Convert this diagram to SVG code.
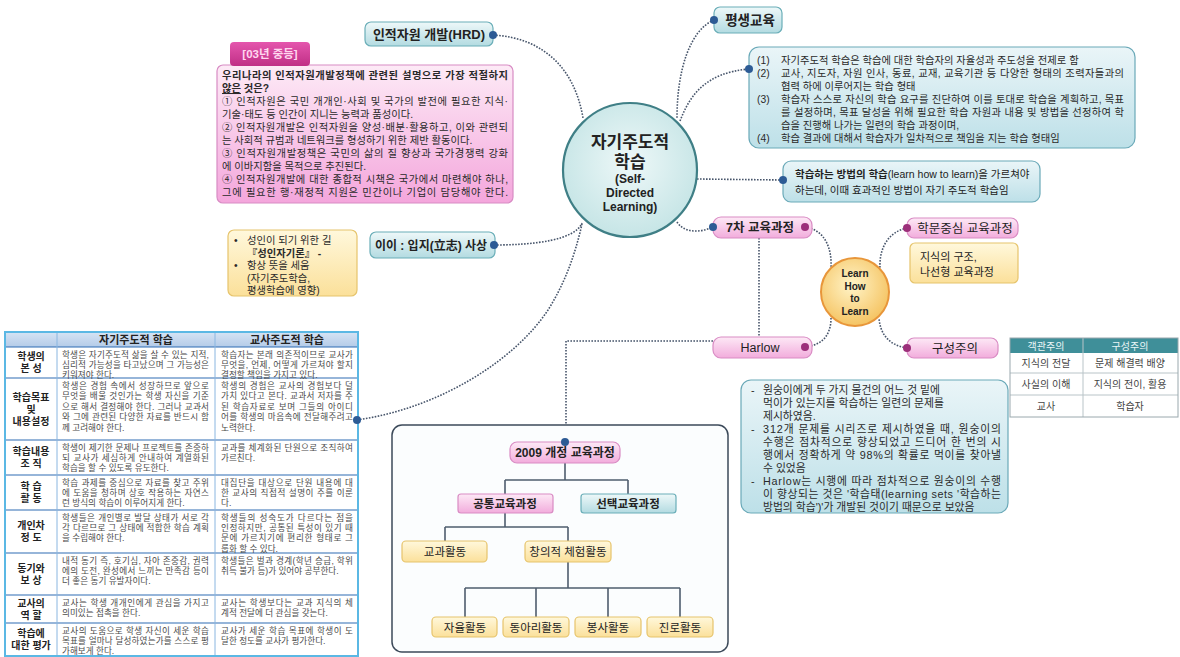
<svg xmlns="http://www.w3.org/2000/svg" width="1180" height="657" viewBox="0 0 1180 657">
<defs>
<linearGradient id="gPink" x1="0" y1="0" x2="0" y2="1"><stop offset="0" stop-color="#fde9f6"/><stop offset="1" stop-color="#f2acdc"/></linearGradient>
<linearGradient id="gTeal" x1="0" y1="0" x2="0" y2="1"><stop offset="0" stop-color="#eef8f9"/><stop offset="1" stop-color="#b3dbe1"/></linearGradient>
<linearGradient id="gYel" x1="0" y1="0" x2="0" y2="1"><stop offset="0" stop-color="#fff8dc"/><stop offset="1" stop-color="#fbe09a"/></linearGradient>
<linearGradient id="gQ" x1="0" y1="0" x2="0" y2="1"><stop offset="0" stop-color="#fdeaf6"/><stop offset="1" stop-color="#f4a6dc"/></linearGradient>
<linearGradient id="gBlue" x1="0" y1="0" x2="0" y2="1"><stop offset="0" stop-color="#eaf5f8"/><stop offset="1" stop-color="#bde0e8"/></linearGradient>
<linearGradient id="gTab" x1="0" y1="0" x2="0" y2="1"><stop offset="0" stop-color="#e456ad"/><stop offset="1" stop-color="#c02f86"/></linearGradient>
<linearGradient id="gHead" x1="0" y1="0" x2="0" y2="1"><stop offset="0" stop-color="#d6e4f4"/><stop offset="1" stop-color="#b4cbe8"/></linearGradient>
<radialGradient id="gCircle" cx="0.5" cy="0.45" r="0.55"><stop offset="0" stop-color="#eef8f8"/><stop offset="1" stop-color="#c6e5e6"/></radialGradient>
<radialGradient id="gGold" cx="0.45" cy="0.4" r="0.6"><stop offset="0" stop-color="#fff4c8"/><stop offset="1" stop-color="#f5c463"/></radialGradient>
<style>
.t{font-family:"Liberation Sans","Noto Sans CJK KR",sans-serif;fill:#222}
.b{font-weight:bold}
.m{text-anchor:middle}
.conn{fill:none;stroke:#46546a;stroke-width:1.6;stroke-dasharray:1.6 1.4}
.tree{fill:none;stroke:#4f5d6e;stroke-width:1.6}
.pk{fill:url(#gPink);stroke:#d98cc4;stroke-width:1.2}
.tl{fill:url(#gTeal);stroke:#6aaeb8;stroke-width:1.2}
.yl{fill:url(#gYel);stroke:#e6c46c;stroke-width:1.2}
.db{fill:#2d5b95}
.dm{fill:#9c2f7a}
.q{font-size:10.3px;fill:#2a2a2a}
.bx{font-size:10.3px;fill:#2a2a2a}
.hx{font-size:10.8px;fill:#2a2a2a}
.c{font-size:8.6px;fill:#4a4a4a}
.lb{font-size:10px;font-weight:bold;text-anchor:middle;fill:#222}
.rt{font-size:10px;fill:#444;text-anchor:middle}
.yn{font-size:10.3px;fill:#2a2a2a}
</style>
</defs>
<rect width="1180" height="657" fill="#ffffff"/>

<g id="connectors">
<path class="conn" d="M493,35 C545,38 575,70 583,118"/>
<path class="conn" d="M714,20 C690,30 677,70 677,118"/>
<path class="conn" d="M680,121 C690,95 705,73 749,69"/>
<path class="conn" d="M697,179 L783,180"/>
<path class="conn" d="M677,222 C684,233 700,233 713,227"/>
<path class="conn" d="M494,245 C535,245 575,240 582,223"/>
<path class="conn" d="M357,420 C440,408 515,360 548,310 C565,283 575,255 582,224"/>
<path class="conn" d="M713,341 L566,341 L566,442"/>
<path class="conn" d="M759,238 L759,337"/>
<path class="conn" d="M805,227 C825,230 832,248 831,268"/>
<path class="conn" d="M907,228 C887,232 879,250 880,268"/>
<path class="conn" d="M805,347 C825,345 831,332 831,318"/>
<path class="conn" d="M907,348 C887,345 880,332 879,318"/>
</g>

<g id="center">
<circle cx="630" cy="170" r="67" fill="url(#gCircle)" stroke="#3f7f86" stroke-width="2.2"/>
<text class="t b m" x="630" y="148" font-size="17">자기주도적</text>
<text class="t b m" x="630" y="168" font-size="17">학습</text>
<text class="t b m" x="630" y="183" font-size="12">(Self-</text>
<text class="t b m" x="630" y="197" font-size="12">Directed</text>
<text class="t b m" x="630" y="211" font-size="12">Learning)</text>
</g>

<g id="hrd">
<rect class="tl" x="365" y="22" width="128" height="24" rx="6"/>
<text class="t b m" x="429" y="39" font-size="13">인적자원 개발(HRD)</text>
<circle class="db" cx="493" cy="35" r="4"/>
</g>

<g id="question">
<rect x="217" y="65" width="296" height="138" rx="6" fill="url(#gQ)" stroke="#d88cc4" stroke-width="1.2"/>
<rect x="230" y="42" width="80" height="24" rx="4" fill="url(#gTab)"/>
<text class="t b m" x="270" y="58" font-size="11.5" style="fill:#ffd8ef">[03년 중등]</text>
<text class="t q b" x="222" y="79" textLength="286" lengthAdjust="spacing">우리나라의 인적자원개발정책에 관련된 설명으로 가장 적절하지</text>
<text class="t q b" x="222" y="92"><tspan text-decoration="underline">않은</tspan> 것은?</text>
<text class="t q" x="222" y="105" textLength="286" lengthAdjust="spacing">① 인적자원은 국민 개개인·사회 및 국가의 발전에 필요한 지식·</text>
<text class="t q" x="222" y="118">기술·태도 등 인간이 지니는 능력과 품성이다.</text>
<text class="t q" x="222" y="131" textLength="286" lengthAdjust="spacing">② 인적자원개발은 인적자원을 양성·배분·활용하고, 이와 관련되</text>
<text class="t q" x="222" y="144">는 사회적 규범과 네트워크를 형성하기 위한 제반 활동이다.</text>
<text class="t q" x="222" y="157" textLength="286" lengthAdjust="spacing">③ 인적자원개발정책은 국민의 삶의 질 향상과 국가경쟁력 강화</text>
<text class="t q" x="222" y="170">에 이바지함을 목적으로 추진된다.</text>
<text class="t q" x="222" y="183" textLength="286" lengthAdjust="spacing">④ 인적자원개발에 대한 종합적 시책은 국가에서 마련해야 하나,</text>
<text class="t q" x="222" y="196" textLength="286" lengthAdjust="spacing">그에 필요한 행·재정적 지원은 민간이나 기업이 담당해야 한다.</text>
</g>

<g id="lifelong">
<rect class="tl" x="714" y="7" width="68" height="26" rx="6"/>
<text class="t b m" x="750" y="25" font-size="13.5">평생교육</text>
<circle class="db" cx="714" cy="20" r="4"/>
</g>

<g id="definition">
<rect x="749" y="47" width="386" height="101" rx="10" fill="url(#gBlue)" stroke="#6aa9b8" stroke-width="1.2"/>
<circle class="db" cx="749" cy="69" r="4"/>
<text class="t bx" x="757" y="64">(1)</text>
<text class="t bx" x="781" y="64">자기주도적 학습은 학습에 대한 학습자의 자율성과 주도성을 전제로 함</text>
<text class="t bx" x="757" y="77">(2)</text>
<text class="t bx" x="781" y="77" textLength="343" lengthAdjust="spacing">교사, 지도자, 자원 인사, 동료, 교재, 교육기관 등 다양한 형태의 조력자들과의</text>
<text class="t bx" x="781" y="90">협력 하에 이루어지는 학습 형태</text>
<text class="t bx" x="757" y="103">(3)</text>
<text class="t bx" x="781" y="103" textLength="343" lengthAdjust="spacing">학습자 스스로 자신의 학습 요구를 진단하여 이를 토대로 학습을 계획하고, 목표</text>
<text class="t bx" x="781" y="116" textLength="343" lengthAdjust="spacing">를 설정하며, 목표 달성을 위해 필요한 학습 자원과 내용 및 방법을 선정하여 학</text>
<text class="t bx" x="781" y="129">습을 진행해 나가는 일련의 학습 과정이며,</text>
<text class="t bx" x="757" y="142">(4)</text>
<text class="t bx" x="781" y="142">학습 결과에 대해서 학습자가 일차적으로 책임을 지는 학습 형태임</text>
</g>

<g id="learnhow">
<rect x="783" y="161" width="257" height="41" rx="8" fill="url(#gBlue)" stroke="#6aa9b8" stroke-width="1.2"/>
<circle class="db" cx="783" cy="180" r="4"/>
<text class="t" x="795" y="178" font-size="10.5"><tspan font-weight="bold">학습하는 방법의 학습</tspan>(learn how to learn)을 가르쳐야</text>
<text class="t" x="795" y="194" font-size="10.5">하는데, 이때 효과적인 방법이 자기 주도적 학습임</text>
</g>

<g id="curr7">
<rect class="pk" x="713" y="217" width="99" height="21" rx="8"/>
<text class="t b m" x="760" y="232" font-size="12.5">7차 교육과정</text>
<circle class="db" cx="713" cy="227" r="4"/>
<circle class="dm" cx="805" cy="227" r="4"/>
</g>

<g id="discipline">
<rect class="pk" x="907" y="218" width="111" height="20" rx="7"/>
<text class="t m" x="965" y="233" font-size="12.5">학문중심 교육과정</text>
<circle class="dm" cx="907" cy="228" r="4"/>
</g>

<g id="structure">
<rect class="yl" x="910" y="243" width="108" height="40" rx="5"/>
<text class="t" x="920" y="261" font-size="11">지식의 구조,</text>
<text class="t" x="920" y="276" font-size="11">나선형 교육과정</text>
</g>

<g id="lhl">
<circle cx="855" cy="292" r="34" fill="url(#gGold)" stroke="#e8963a" stroke-width="2"/>
<text class="t b m" x="855" y="277" font-size="10">Learn</text>
<text class="t b m" x="855" y="290" font-size="10">How</text>
<text class="t b m" x="855" y="302" font-size="10">to</text>
<text class="t b m" x="855" y="315" font-size="10">Learn</text>
</g>

<g id="harlow">
<rect class="pk" x="713" y="337" width="99" height="21" rx="8"/>
<text class="t m" x="760" y="352" font-size="12.5">Harlow</text>
<circle class="dm" cx="805" cy="347" r="4"/>
</g>

<g id="constructivism">
<rect class="pk" x="907" y="338" width="91" height="20" rx="7"/>
<text class="t m" x="955" y="353" font-size="12.5">구성주의</text>
<circle class="dm" cx="907" cy="348" r="4"/>
</g>

<g id="harlow-info">
<rect x="741" y="380" width="267" height="133" rx="10" fill="url(#gBlue)" stroke="#6aa9b8" stroke-width="1.2"/>
<text class="t hx" x="751" y="394">-</text>
<text class="t hx" x="763" y="394">원숭이에게 두 가지 물건의 어느 것 밑에</text>
<text class="t hx" x="763" y="407">먹이가 있는지를 학습하는 일련의 문제를</text>
<text class="t hx" x="763" y="420">제시하였음.</text>
<text class="t hx" x="751" y="433">-</text>
<text class="t hx" x="763" y="433" textLength="238" lengthAdjust="spacing">312개 문제를 시리즈로 제시하였을 때, 원숭이의</text>
<text class="t hx" x="763" y="446" textLength="238" lengthAdjust="spacing">수행은 점차적으로 향상되었고 드디어 한 번의 시</text>
<text class="t hx" x="763" y="459" textLength="238" lengthAdjust="spacing">행에서 정확하게 약 98%의 확률로 먹이를 찾아낼</text>
<text class="t hx" x="763" y="472">수 있었음</text>
<text class="t hx" x="751" y="485">-</text>
<text class="t hx" x="763" y="485" textLength="238" lengthAdjust="spacing">Harlow는 시행에 따라 점차적으로 원숭이의 수행</text>
<text class="t hx" x="763" y="498" textLength="238" lengthAdjust="spacing">이 향상되는 것은 '학습태(learning sets '학습하는</text>
<text class="t hx" x="763" y="511">방법의 학습')'가 개발된 것이기 때문으로 보았음</text>
</g>

<g id="yiyi">
<rect class="tl" x="370" y="232" width="125" height="26" rx="6"/>
<text class="t b m" x="431" y="249.5" font-size="12">이이 : 입지(立志) 사상</text>
<circle class="db" cx="494" cy="245" r="4"/>
</g>

<g id="yiyi-note">
<rect class="yl" x="228" y="230" width="129" height="66" rx="6"/>
<text class="t yn" x="234" y="244">•</text>
<text class="t yn" x="247" y="244">성인이 되기 위한 길</text>
<text class="t yn b" x="247" y="256.5">『성인자기론』 -</text>
<text class="t yn" x="234" y="269">•</text>
<text class="t yn" x="247" y="269">항상 뜻을 세움</text>
<text class="t yn" x="247" y="281.5">(자기주도학습,</text>
<text class="t yn" x="247" y="294">평생학습에 영향)</text>
</g>

<g id="compare-table">
<rect x="5" y="332" width="353" height="15" fill="url(#gHead)"/>
<rect x="5" y="347" width="353" height="309" fill="#ffffff"/>
<g stroke="#2e6db4" stroke-width="1.2">
<line x1="5" y1="347" x2="358" y2="347"/>
<line x1="5" y1="378" x2="358" y2="378"/>
<line x1="5" y1="440" x2="358" y2="440"/>
<line x1="5" y1="475" x2="358" y2="475"/>
<line x1="5" y1="510" x2="358" y2="510"/>
<line x1="5" y1="553" x2="358" y2="553"/>
<line x1="5" y1="595" x2="358" y2="595"/>
<line x1="5" y1="623" x2="358" y2="623"/>
</g>
<g stroke="#8ab6e0" stroke-width="1">
<line x1="57" y1="332" x2="57" y2="656"/>
<line x1="215" y1="332" x2="215" y2="656"/>
</g>
<rect x="5" y="332" width="353" height="324" fill="none" stroke="#5bb8e4" stroke-width="2"/>
<text class="t b m" x="136" y="344" font-size="11">자기주도적 학습</text>
<text class="t b m" x="287" y="344" font-size="11">교사주도적 학습</text>

<text class="t lb" x="31" y="360">학생의</text><text class="t lb" x="31" y="372">본 성</text>
<text class="t lb" x="31" y="400.5">학습목표</text><text class="t lb" x="31" y="412.5">및</text><text class="t lb" x="31" y="424.5">내용설정</text>
<text class="t lb" x="31" y="455">학습내용</text><text class="t lb" x="31" y="467">조 직</text>
<text class="t lb" x="31" y="490">학 습</text><text class="t lb" x="31" y="502">활 동</text>
<text class="t lb" x="31" y="529">개인차</text><text class="t lb" x="31" y="541">정 도</text>
<text class="t lb" x="31" y="571.5">동기와</text><text class="t lb" x="31" y="583.5">보 상</text>
<text class="t lb" x="31" y="606.5">교사의</text><text class="t lb" x="31" y="618.5">역 할</text>
<text class="t lb" x="31" y="637">학습에</text><text class="t lb" x="31" y="649">대한 평가</text>

<text class="t c" x="62" y="357.5" textLength="147" lengthAdjust="spacing">학생은 자기주도적 삶을 살 수 있는 지적,</text>
<text class="t c" x="62" y="367.9" textLength="147" lengthAdjust="spacing">심리적 가능성을 타고났으며 그 가능성은</text>
<text class="t c" x="62" y="378">키워져야 한다.</text>
<text class="t c" x="221" y="357.5" textLength="132" lengthAdjust="spacing">학습자는 본래 의존적이므로 교사가</text>
<text class="t c" x="221" y="367.9" textLength="132" lengthAdjust="spacing">무엇을, 언제, 어떻게 가르쳐야 할지</text>
<text class="t c" x="221" y="378">결정할 책임을 가지고 있다.</text>

<text class="t c" x="62" y="389" textLength="147" lengthAdjust="spacing">학생은 경험 속에서 성장하므로 앞으로</text>
<text class="t c" x="62" y="399.4" textLength="147" lengthAdjust="spacing">무엇을 배울 것인가는 학생 자신을 기준</text>
<text class="t c" x="62" y="409.8" textLength="147" lengthAdjust="spacing">으로 해서 결정해야 한다. 그러나 교과서</text>
<text class="t c" x="62" y="420.2" textLength="147" lengthAdjust="spacing">와 그에 관련된 다양한 자료를 반드시 함</text>
<text class="t c" x="62" y="430.6">께 고려해야 한다.</text>
<text class="t c" x="221" y="389" textLength="132" lengthAdjust="spacing">학생의 경험은 교사의 경험보다 덜</text>
<text class="t c" x="221" y="399.4" textLength="132" lengthAdjust="spacing">가치 있다고 본다. 교과서 저자를 주</text>
<text class="t c" x="221" y="409.8" textLength="132" lengthAdjust="spacing">된 학습자료로 보며 그들의 아이디</text>
<text class="t c" x="221" y="420.2" textLength="132" lengthAdjust="spacing">어를 학생의 마음속에 전달해주려고</text>
<text class="t c" x="221" y="430.6">노력한다.</text>

<text class="t c" x="62" y="450.5" textLength="147" lengthAdjust="spacing">학생이 제기한 문제나 프로젝트를 존중하</text>
<text class="t c" x="62" y="460.9" textLength="147" lengthAdjust="spacing">되 교사가 세심하게 안내하여 계열화된</text>
<text class="t c" x="62" y="471.3">학습을 할 수 있도록 유도한다.</text>
<text class="t c" x="221" y="450.5" textLength="132" lengthAdjust="spacing">교과를 체계화된 단원으로 조직하여</text>
<text class="t c" x="221" y="460.9">가르친다.</text>

<text class="t c" x="62" y="485.5" textLength="147" lengthAdjust="spacing">학습 과제를 중심으로 자료를 찾고 주위</text>
<text class="t c" x="62" y="495.9" textLength="147" lengthAdjust="spacing">에 도움을 청하며 상호 작용하는 자연스</text>
<text class="t c" x="62" y="506.3">런 방식의 학습이 이루어지게 한다.</text>
<text class="t c" x="221" y="485.5" textLength="132" lengthAdjust="spacing">대집단을 대상으로 단원 내용에 대</text>
<text class="t c" x="221" y="495.9" textLength="132" lengthAdjust="spacing">한 교사의 직접적 설명이 주를 이룬</text>
<text class="t c" x="221" y="506.3">다.</text>

<text class="t c" x="62" y="520.5" textLength="147" lengthAdjust="spacing">학생들은 개인별로 발달 상태가 서로 각</text>
<text class="t c" x="62" y="530.9" textLength="147" lengthAdjust="spacing">각 다르므로 그 상태에 적합한 학습 계획</text>
<text class="t c" x="62" y="541.3">을 수립해야 한다.</text>
<text class="t c" x="221" y="520.5" textLength="132" lengthAdjust="spacing">학생들의 성숙도가 다르다는 점을</text>
<text class="t c" x="221" y="530.9" textLength="132" lengthAdjust="spacing">인정하지만, 공통된 특성이 있기 때</text>
<text class="t c" x="221" y="541.3" textLength="132" lengthAdjust="spacing">문에 가르치기에 편리한 형태로 그</text>
<text class="t c" x="221" y="551.5">룹화 할 수 있다.</text>

<text class="t c" x="62" y="563.5" textLength="147" lengthAdjust="spacing">내적 동기 즉, 호기심, 자아 존중감, 권력</text>
<text class="t c" x="62" y="573.9" textLength="147" lengthAdjust="spacing">에의 도전, 완성에서 느끼는 만족감 등이</text>
<text class="t c" x="62" y="584.3">더 좋은 동기 유발자이다.</text>
<text class="t c" x="221" y="563.5" textLength="132" lengthAdjust="spacing">학생들은 벌과 경계(학년 승급, 학위</text>
<text class="t c" x="221" y="573.9">취득 불가 등)가 있어야 공부한다.</text>

<text class="t c" x="62" y="605.5" textLength="147" lengthAdjust="spacing">교사는 학생 개개인에게 관심을 가지고</text>
<text class="t c" x="62" y="615.9">의미있는 접촉을 한다.</text>
<text class="t c" x="221" y="605.5" textLength="132" lengthAdjust="spacing">교사는 학생보다는 교과 지식의 체</text>
<text class="t c" x="221" y="615.9">계적 전달에 더 관심을 갖는다.</text>

<text class="t c" x="62" y="633.5" textLength="147" lengthAdjust="spacing">교사의 도움으로 학생 자신이 세운 학습</text>
<text class="t c" x="62" y="643.9" textLength="147" lengthAdjust="spacing">목표를 얼마나 달성하였는가를 스스로 평</text>
<text class="t c" x="62" y="654">가해보게 한다.</text>
<text class="t c" x="221" y="633.5" textLength="132" lengthAdjust="spacing">교사가 세운 학습 목표에 학생이 도</text>
<text class="t c" x="221" y="643.9">달한 정도를 교사가 평가한다.</text>
<circle class="db" cx="357" cy="420" r="4"/>
</g>

<g id="obj-con-table">
<rect x="1010" y="338" width="168" height="15" fill="#3f8f99"/>
<rect x="1010" y="353" width="168" height="64" fill="#ffffff"/>
<g stroke="#b9c4c8" stroke-width="1">
<line x1="1010" y1="373" x2="1178" y2="373"/>
<line x1="1010" y1="395" x2="1178" y2="395"/>
<line x1="1083" y1="338" x2="1083" y2="417"/>
</g>
<rect x="1010" y="338" width="168" height="79" fill="none" stroke="#9aa8ad" stroke-width="1"/>
<text class="t m" x="1046" y="349.5" font-size="10" style="fill:#eaf6f7">객관주의</text>
<text class="t m" x="1130" y="349.5" font-size="10" style="fill:#eaf6f7">구성주의</text>
<text class="t rt" x="1046" y="367">지식의 전달</text>
<text class="t rt" x="1130" y="367">문제 해결력 배양</text>
<text class="t rt" x="1046" y="388">사실의 이해</text>
<text class="t rt" x="1130" y="388">지식의 전이, 활용</text>
<text class="t rt" x="1046" y="410">교사</text>
<text class="t rt" x="1130" y="410">학습자</text>
</g>

<g id="curr2009">
<rect x="392" y="425" width="336" height="227" rx="10" fill="#fbfdfe" stroke="#3c4a5a" stroke-width="1.5"/>
<g class="tree">
<path d="M565,463 V480 M505,480 H628 M505,480 V494 M628,480 V494"/>
<path d="M505,513 V527 M445,527 H568 M445,527 V541 M568,527 V541"/>
<path d="M568,562 V588 M465,588 H680 M465,588 V617 M536,588 V617 M608,588 V617 M680,588 V617"/>
</g>
<rect class="pk" x="510" y="442" width="110" height="21" rx="7"/>
<text class="t b m" x="565" y="457" font-size="12">2009 개정 교육과정</text>
<circle class="db" cx="565" cy="442" r="4"/>
<rect class="pk" x="458" y="494" width="95" height="19" rx="3"/>
<text class="t b m" x="505" y="508" font-size="11.5">공통교육과정</text>
<rect class="tl" x="581" y="494" width="95" height="19" rx="3"/>
<text class="t b m" x="628" y="508" font-size="11.5">선택교육과정</text>
<rect class="yl" x="402" y="541" width="85" height="21" rx="4"/>
<text class="t m" x="445" y="556" font-size="11.5">교과활동</text>
<rect class="yl" x="525" y="541" width="86" height="21" rx="4"/>
<text class="t m" x="568" y="556" font-size="11.5">창의적 체험활동</text>
<rect class="yl" x="432" y="617" width="65" height="20" rx="4"/>
<text class="t m" x="465" y="631.5" font-size="11.5">자율활동</text>
<rect class="yl" x="503" y="617" width="66" height="20" rx="4"/>
<text class="t m" x="536" y="631.5" font-size="11.5">동아리활동</text>
<rect class="yl" x="575" y="617" width="66" height="20" rx="4"/>
<text class="t m" x="608" y="631.5" font-size="11.5">봉사활동</text>
<rect class="yl" x="647" y="617" width="66" height="20" rx="4"/>
<text class="t m" x="680" y="631.5" font-size="11.5">진로활동</text>
</g>
</svg>
